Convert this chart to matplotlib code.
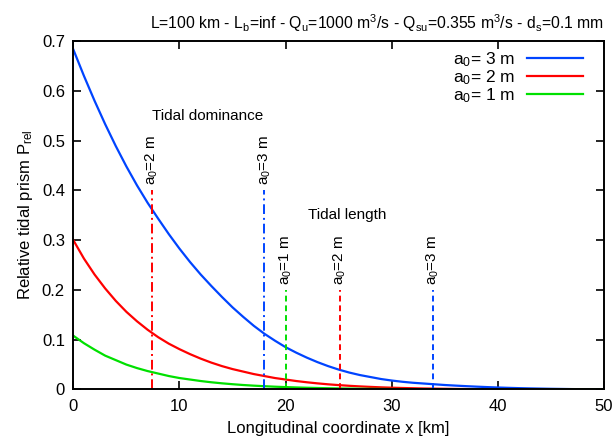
import numpy as np
import matplotlib
matplotlib.use("Agg")
import matplotlib.pyplot as plt

plt.rcParams['font.family'] = ['Liberation Sans', 'DejaVu Sans']
plt.rcParams['font.size'] = 10.5
plt.rcParams['mathtext.fontset'] = 'custom'
plt.rcParams['mathtext.rm'] = 'Liberation Sans'
plt.rcParams['mathtext.it'] = 'Liberation Sans'

# longitudinal coordinate (km) and relative tidal prism
x_km = list(range(0, 51))
p_a3 = [0.683, 0.630, 0.580, 0.533, 0.489, 0.448, 0.410, 0.375, 0.343, 0.312,
        0.283, 0.256, 0.231, 0.208, 0.186, 0.165, 0.146, 0.128, 0.112, 0.098,
        0.085, 0.074, 0.064, 0.055, 0.047, 0.040, 0.034, 0.029, 0.025, 0.021,
        0.018, 0.0155, 0.0135, 0.012, 0.0105, 0.009, 0.0078, 0.0067, 0.0057, 0.0048,
        0.004, 0.0033, 0.0027, 0.0022, 0.0018, 0.0014, 0.0011, 0.0008, 0.0006, 0.0004,
        0.0002]
p_a2 = [0.300, 0.263, 0.231, 0.203, 0.178, 0.156, 0.137, 0.120, 0.105, 0.092,
        0.081, 0.071, 0.062, 0.054, 0.047, 0.041, 0.036, 0.031, 0.027, 0.023,
        0.020, 0.017, 0.0145, 0.0123, 0.0104, 0.0088, 0.0074, 0.0062, 0.0052, 0.0043,
        0.0036, 0.003, 0.0025, 0.002, 0.0017, 0.0014, 0.0011, 0.0009, 0.0007, 0.0006,
        0.0005, 0.0004, 0.0003, 0.0002, 0.0002, 0.0001, 0.0001, 0.0, 0.0, 0.0,
        0.0]
p_a1 = [0.108, 0.093, 0.080, 0.068, 0.059, 0.050, 0.043, 0.037, 0.032, 0.027,
        0.023, 0.020, 0.017, 0.0145, 0.0124, 0.0106, 0.009, 0.0077, 0.0066, 0.0056,
        0.0048, 0.0041, 0.0035, 0.003, 0.0025, 0.0021, 0.0018, 0.0015, 0.0013, 0.0011,
        0.0009, 0.0008, 0.0007, 0.0006, 0.0005, 0.0004, 0.0003, 0.0003, 0.0002, 0.0002,
        0.0001, 0.0, 0.0, 0.0, 0.0, 0.0, 0.0, 0.0, 0.0, 0.0,
        0.0]

# vertical markers: tidal dominance and tidal length positions (km)
dom_x = [7.4, 18.0]
dom_lab = ["a$_0$=2 m", "a$_0$=3 m"]
dom_top = 0.40
len_x = [20.0, 25.1, 33.9]
len_lab = ["a$_0$=1 m", "a$_0$=2 m", "a$_0$=3 m"]
len_top = 0.20

blue = '#0044ff'
red = '#ff0000'
green = '#00e000'

fig = plt.figure(figsize=(6.13, 4.40), dpi=100)
ax = fig.add_axes([0.1196, 0.1148, 0.8657, 0.792])

ax.plot(x_km, p_a3, color=blue, lw=1.6, label="a$_0$= 3 m")
ax.plot(x_km, p_a2, color=red, lw=1.6, label="a$_0$= 2 m")
ax.plot(x_km, p_a1, color=green, lw=1.6, label="a$_0$= 1 m")

dashdot = (0, (5, 2, 1, 2))
for xv, c, lab in zip(dom_x, [red, blue], dom_lab):
    ax.plot([xv, xv], [0, dom_top], color=c, lw=1.4, ls=dashdot)
    ax.text(xv, dom_top + 0.01, lab, rotation=90, ha='center', va='bottom', fontsize=11)
ax.text(np.mean(dom_x), 0.55, "Tidal dominance", ha='center', va='center', fontsize=11)

for xv, c, lab in zip(len_x, [green, red, blue], len_lab):
    ax.plot([xv, xv], [0, len_top], color=c, lw=1.4, ls=(0, (3, 2)))
    ax.text(xv, len_top + 0.01, lab, rotation=90, ha='center', va='bottom', fontsize=11)
ax.text(25.8, 0.35, "Tidal length", ha='center', va='center', fontsize=11)

ax.set_xlim(0, 50)
ax.set_ylim(0, 0.7)
ax.set_xticks([0, 10, 20, 30, 40, 50])
ax.set_yticks([0, 0.1, 0.2, 0.3, 0.4, 0.5, 0.6, 0.7])
ax.set_yticklabels(['0', '0.1', '0.2', '0.3', '0.4', '0.5', '0.6', '0.7'])
ax.tick_params(direction='in', length=6, width=1.2, top=True, right=True, labelsize=12)
ax.tick_params(axis='x', pad=7)
ax.tick_params(axis='y', pad=6)
for s in ax.spines.values():
    s.set_linewidth(1.4)

ax.set_xlabel("Longitudinal coordinate x [km]", fontsize=12, labelpad=5)
ax.set_ylabel("Relative tidal prism P$_{\\rm rel}$", fontsize=12, labelpad=5)
ax.set_title("L=100 km - L$_b$=inf - Q$_u$=1000 m$^3$/s - Q$_{su}$=0.355 m$^3$/s - d$_s$=0.1 mm",
             fontsize=11.3, pad=9, loc='right')

leg = ax.legend(loc='upper right', frameon=False, markerfirst=False, fontsize=12.5,
                handlelength=3.2, handletextpad=0.7, labelspacing=-0.05,
                borderaxespad=0.0, borderpad=0.0, bbox_to_anchor=(0.96, 0.973))
for t in leg.get_texts():
    t.set_ha('right')

fig.savefig("out.png", dpi=100)
